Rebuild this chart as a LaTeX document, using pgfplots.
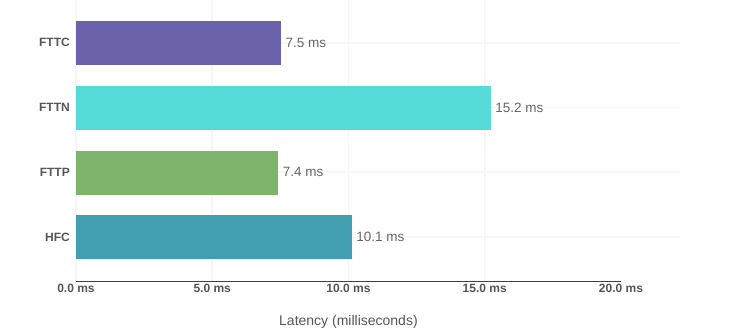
\documentclass[border=0pt]{standalone}
\usepackage{pgfplots}
\pgfplotsset{compat=1.18}
\usepackage{fontspec}
\setmainfont{Liberation Sans}
\definecolor{cFTTC}{HTML}{6A62AB}
\definecolor{cFTTN}{HTML}{56DCD8}
\definecolor{cFTTP}{HTML}{7DB36A}
\definecolor{cHFC}{HTML}{429FB2}
\definecolor{gridc}{HTML}{F6F6F6}
\definecolor{tickc}{HTML}{555555}
\definecolor{valc}{HTML}{666666}
\begin{document}
\begin{tikzpicture}
\path[use as bounding box] (-76pt,-49pt) rectangle (660pt,281pt);
\begin{axis}[
  scale only axis,
  width=604pt, height=281pt,
  xbar, bar width=43pt, bar shift=0pt,
  xmin=0, xmax=22.165,
  ymin=-0.68, ymax=3.66,
  axis line style={draw=none},
  tick style={draw=none},
  clip=false,
  /pgf/number format/assume math mode=true,
  xtick={0,5,10,15,20},
  xticklabels={0.0 ms,5.0 ms,10.0 ms,15.0 ms,20.0 ms},
  extra x ticks={0,5,10,15},
  extra x tick labels={},
  extra x tick style={xmajorgrids=true},
  xmajorgrids=false,
  ytick={0,1,2,3},
  yticklabels={HFC,FTTP,FTTN,FTTC},
  ymajorgrids=true,
  major tick length=0pt,
  grid style={gridc, line width=1.8pt},
  xticklabel style={font=\fontsize{12}{14}\selectfont\bfseries, text=tickc, anchor=base, inner sep=0pt, yshift=-11.7pt},
  yticklabel style={font=\fontsize{12}{14}\selectfont\bfseries, text=tickc, anchor=east, inner sep=0pt, xshift=-6pt},
  xlabel={Latency (milliseconds)},
  xlabel style={at={(axis description cs:0.4511,0)}, anchor=base, yshift=-44.7pt, font=\fontsize{14}{16}\selectfont, text=tickc, inner sep=0pt},
  point meta=x,
  nodes near coords={\pgfmathprintnumber[fixed,precision=1,fixed zerofill]{\pgfplotspointmeta}~ms},
  nodes near coords style={font=\fontsize{13.5}{15}\selectfont, text=valc, anchor=west, inner sep=0pt, xshift=5pt},
]
\addplot[fill=cHFC, draw=cHFC] coordinates {(10.1,0)};
\addplot[fill=cFTTP, draw=cFTTP] coordinates {(7.4,1)};
\addplot[fill=cFTTN, draw=cFTTN] coordinates {(15.2,2)};
\addplot[fill=cFTTC, draw=cFTTC] coordinates {(7.5,3)};
\draw[color=black!75, line width=1pt] (axis cs:0,-0.68) -- (axis cs:20,-0.68);
\end{axis}
\end{tikzpicture}
\end{document}
